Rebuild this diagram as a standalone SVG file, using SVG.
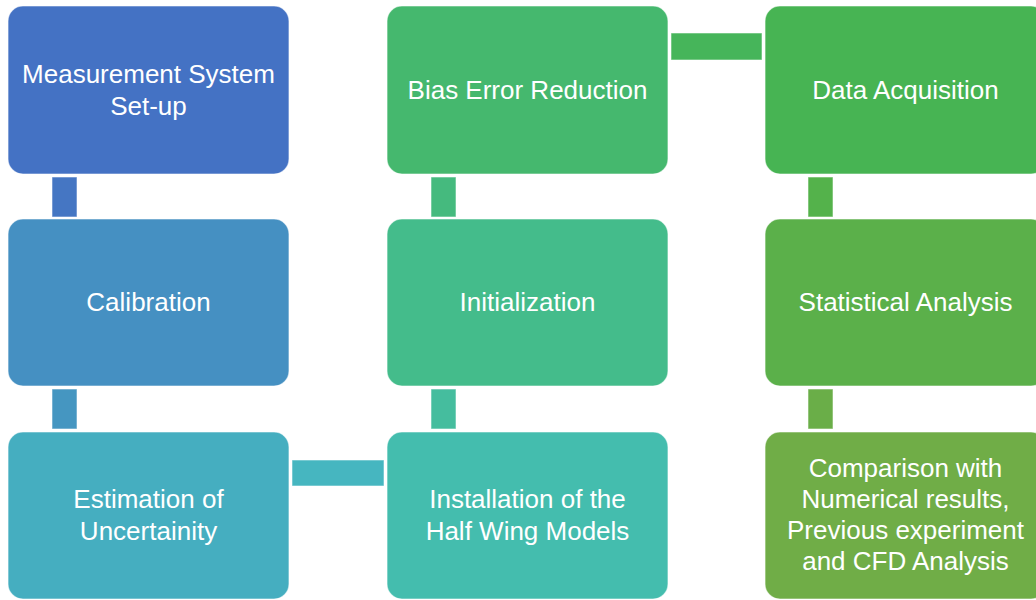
<svg xmlns="http://www.w3.org/2000/svg" width="1036" height="600" viewBox="0 0 1036 600">
<style>
.box{stroke:#ffffff;stroke-opacity:0.55;stroke-width:1.2}
.conn{stroke:#ffffff;stroke-opacity:0.55;stroke-width:1}
text{font-family:"Liberation Sans",Arial,sans-serif;font-size:26px;fill:#ffffff;text-anchor:middle}
</style>
<rect width="1036" height="600" fill="#ffffff"/>
<g id="connectors">
<rect class="conn" x="52" y="177" width="25" height="40" fill="#4576C3"/>
<rect class="conn" x="52" y="389" width="25" height="40" fill="#4596C1"/>
<rect class="conn" x="292" y="460" width="92" height="26" fill="#46B6C0"/>
<rect class="conn" x="431" y="389" width="25" height="40" fill="#45BD9E"/>
<rect class="conn" x="431" y="177" width="25" height="40" fill="#45BA7E"/>
<rect class="conn" x="671" y="33" width="91" height="27" fill="#46B55A"/>
<rect class="conn" x="808" y="177" width="25" height="40" fill="#54B24B"/>
<rect class="conn" x="808" y="389" width="25" height="40" fill="#6AAE48"/>
</g>
<g id="n1"><rect class="box" x="8" y="6" width="281" height="168" rx="15" fill="#4472C4"/><text x="148.5" y="83">Measurement System</text><text x="148.5" y="115">Set-up</text></g>
<g id="n2"><rect class="box" x="8" y="219" width="281" height="167" rx="15" fill="#4590C2"/><text x="148.5" y="311">Calibration</text></g>
<g id="n3"><rect class="box" x="8" y="432" width="281" height="167" rx="15" fill="#45AEC0"/><text x="148.5" y="508">Estimation of</text><text x="148.5" y="540">Uncertainity</text></g>
<g id="n4"><rect class="box" x="387" y="432" width="281" height="167" rx="15" fill="#44BDAE"/><text x="527.5" y="508">Installation of the</text><text x="527.5" y="540">Half Wing Models</text></g>
<g id="n5"><rect class="box" x="387" y="219" width="281" height="167" rx="15" fill="#44BC8B"/><text x="527.5" y="311">Initialization</text></g>
<g id="n6"><rect class="box" x="387" y="6" width="281" height="168" rx="15" fill="#45B86E"/><text x="527.5" y="99">Bias Error Reduction</text></g>
<g id="n7"><rect class="box" x="765" y="6" width="281" height="168" rx="15" fill="#47B453"/><text x="905.5" y="99">Data Acquisition</text></g>
<g id="n8"><rect class="box" x="765" y="219" width="281" height="167" rx="15" fill="#5BB04A"/><text x="905.5" y="311">Statistical Analysis</text></g>
<g id="n9"><rect class="box" x="765" y="432" width="281" height="167" rx="15" fill="#70AD47"/><text x="905.5" y="477">Comparison with</text><text x="905.5" y="508">Numerical results,</text><text x="905.5" y="539">Previous experiment</text><text x="905.5" y="570">and CFD Analysis</text></g>
</svg>
